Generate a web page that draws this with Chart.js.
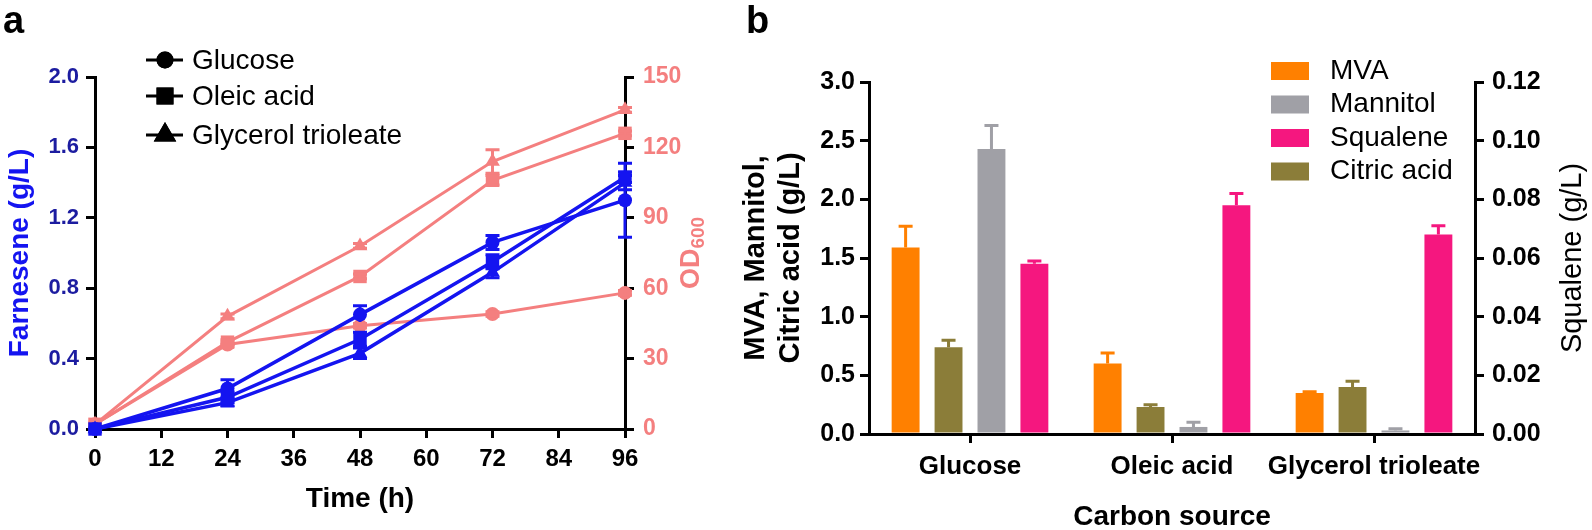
<!DOCTYPE html>
<html>
<head>
<meta charset="utf-8">
<script src="https://cdn.jsdelivr.net/npm/chart.js@4.4.1/dist/chart.umd.min.js"></script>
<style>
  html, body { margin: 0; padding: 0; background: #fff; }
  #wrap { position: relative; width: 1592px; height: 530px; overflow: hidden; }
  canvas { position: absolute; top: 0; }
  #chartA { left: 0; }
  #chartB { left: 720px; }
  .panel { position: absolute; font: bold 38px 'Liberation Sans', Arial, sans-serif; line-height: 1; }
</style>
</head>
<body>
<div id="wrap">
  <canvas id="chartA" width="720" height="530"></canvas>
  <canvas id="chartB" width="872" height="530"></canvas>
  <div class="panel" style="left:3px;top:1px;">a</div>
  <div class="panel" style="left:746px;top:1px;">b</div>
</div>
<script>
// ---- panel a: farnesene + OD600 over time ----
const hours = [0, 24, 48, 72, 96];
const seriesNames = ['Glucose', 'Oleic acid', 'Glycerol trioleate'];
const seriesMarkers = ['circle', 'rect', 'triangle'];

const farnGlucose  = [0, 0.23, 0.65, 1.06, 1.30];
const farnOleic    = [0, 0.18, 0.51, 0.95, 1.43];
const farnGlycerol = [0, 0.15, 0.43, 0.89, 1.40];
const farnGlucoseErr  = [0, 0.05, 0.05, 0.04, 0.21];
const farnOleicErr    = [0, 0.03, 0.04, 0.04, 0.03];
const farnGlycerolErr = [0, 0.02, 0.03, 0.03, 0.04];

const odGlucose  = [2, 36, 44, 49, 58];
const odOleic    = [2, 37, 65, 106, 126];
const odGlycerol = [2, 48, 78, 114, 136];
const odGlucoseErr  = [0, 1, 1, 1, 1];
const odOleicErr    = [0, 1, 1, 2, 1];
const odGlycerolErr = [0, 1, 1, 5, 1];

const timeTicks = [0, 12, 24, 36, 48, 60, 72, 84, 96];

// ---- panel b: by-products per carbon source ----
const sources = ['Glucose', 'Oleic acid', 'Glycerol trioleate'];
const mva         = [1.59, 0.60, 0.35];
const mvaErr      = [0.18, 0.09, 0.01];
const citric      = [0.74, 0.23, 0.40];
const citricErr   = [0.06, 0.02, 0.05];
const mannitol    = [2.43, 0.06, 0.03];
const mannitolErr = [0.20, 0.04, 0.015];
const squalene    = [0.058, 0.078, 0.068];
const squaleneErr = [0.001, 0.004, 0.003];
const legendOrderB = ['MVA', 'Mannitol', 'Squalene', 'Citric acid'];

const FONT = "'Liberation Sans', Arial, Helvetica, sans-serif";
Chart.defaults.font.family = FONT;
Chart.defaults.color = '#000';

const BLUE = '#1414f0';
const NAVY = '#1c1ca0';
const SALMON = '#f47f7f';
const ORANGE = '#ff8000';
const GREY = '#a0a0a6';
const PINK = '#f5177f';
const OLIVE = '#8b7d39';

// error bars, drawn from the scales of each dataset
const errorBars = {
  id: 'errorBars',
  afterDatasetsDraw(chart, args, o) {
    const ctx = chart.ctx;
    chart.data.datasets.forEach((ds, i) => {
      if (!ds.err) return;
      const meta = chart.getDatasetMeta(i);
      const ys = chart.scales[meta.yAxisID];
      ctx.save();
      ctx.strokeStyle = ds.borderColor || ds.backgroundColor;
      ctx.lineWidth = o.width;
      meta.data.forEach((el, j) => {
        const d = ds.data[j];
        const v = typeof d === 'object' ? d.y : d;
        const e = ds.err[j];
        if (!e) return;
        const top = ys.getPixelForValue(v + e);
        const bot = ds.errBoth ? ys.getPixelForValue(v - e) : el.y;
        ctx.beginPath();
        ctx.moveTo(el.x, top); ctx.lineTo(el.x, bot);
        ctx.moveTo(el.x - o.cap / 2, top); ctx.lineTo(el.x + o.cap / 2, top);
        if (ds.errBoth) { ctx.moveTo(el.x - o.cap / 2, bot); ctx.lineTo(el.x + o.cap / 2, bot); }
        ctx.stroke();
      });
      ctx.restore();
    });
  }
};

// right-hand axis titles (read bottom to top, with optional subscript)
const sideTitle = {
  id: 'sideTitle',
  afterDraw(chart, args, o) {
    if (!o.parts) return;
    const ctx = chart.ctx, a = chart.chartArea;
    ctx.save();
    ctx.translate(a.right + o.offset, (a.top + a.bottom) / 2);
    ctx.rotate(-Math.PI / 2);
    ctx.fillStyle = o.color;
    ctx.textBaseline = 'middle';
    let total = 0;
    o.parts.forEach(p => { ctx.font = p.font; total += ctx.measureText(p.text).width; });
    let x = -total / 2;
    o.parts.forEach(p => {
      ctx.font = p.font;
      ctx.fillText(p.text, x, p.dy || 0);
      x += ctx.measureText(p.text).width;
    });
    ctx.restore();
  }
};

// legend of panel a: black line + marker
const legendA = {
  id: 'legendA',
  afterDraw(chart) {
    const ctx = chart.ctx;
    const rows = [60, 96, 135];
    const radii = [8.5, 12, 13];
    ctx.save();
    seriesNames.forEach((name, k) => {
      const y = rows[k];
      ctx.strokeStyle = '#000'; ctx.lineWidth = 3;
      ctx.beginPath(); ctx.moveTo(146, y); ctx.lineTo(183, y); ctx.stroke();
      ctx.fillStyle = '#000';
      Chart.helpers.drawPoint(ctx, { pointStyle: seriesMarkers[k], radius: radii[k], rotation: 0, borderWidth: 0 }, 165, y);
      ctx.fill();
      ctx.font = '28px ' + FONT;
      ctx.textBaseline = 'middle';
      ctx.fillText(name, 192, y + 1);
    });
    ctx.restore();
  }
};

// legend of panel b: colour boxes in the figure's own order
const legendB = {
  id: 'legendB',
  afterDraw(chart) {
    const ctx = chart.ctx;
    ctx.save();
    legendOrderB.forEach((name, k) => {
      const ds = chart.data.datasets.find(d => d.label === name);
      const top = 62 + k * 33.5;
      ctx.fillStyle = ds.backgroundColor;
      ctx.fillRect(551, top, 38, 18);
      ctx.fillStyle = '#000';
      ctx.font = '28px ' + FONT;
      ctx.textBaseline = 'middle';
      ctx.fillText(name, 610, top + 9);
    });
    ctx.restore();
  }
};

function pts(vals) { return hours.map((h, i) => ({ x: h, y: vals[i] })); }

function lineSet(label, vals, err, color, k, axis, width) {
  const r = [7, 9.5, 8.5][k];
  return {
    label, data: pts(vals), err, errBoth: true, yAxisID: axis,
    borderColor: color, backgroundColor: color, borderWidth: width,
    pointStyle: seriesMarkers[k], pointRadius: r, pointHoverRadius: r,
    pointBorderWidth: 0, tension: 0, clip: false
  };
}

const axisGrid = { drawOnChartArea: false, color: '#000', lineWidth: 3, tickLength: 9 };
const axisBorder = { display: true, color: '#000', width: 3 };

new Chart(document.getElementById('chartA'), {
  type: 'line',
  data: {
    datasets: [
      lineSet('Glucose', farnGlucose, farnGlucoseErr, BLUE, 0, 'y', 3.5),
      lineSet('Oleic acid', farnOleic, farnOleicErr, BLUE, 1, 'y', 3.5),
      lineSet('Glycerol trioleate', farnGlycerol, farnGlycerolErr, BLUE, 2, 'y', 3.5),
      lineSet('Glucose OD', odGlucose, odGlucoseErr, SALMON, 0, 'y2', 3),
      lineSet('Oleic acid OD', odOleic, odOleicErr, SALMON, 1, 'y2', 3),
      lineSet('Glycerol trioleate OD', odGlycerol, odGlycerolErr, SALMON, 2, 'y2', 3)
    ]
  },
  plugins: [errorBars, sideTitle, legendA],
  options: {
    responsive: false,
    animation: false,
    devicePixelRatio: 1,
    layout: { padding: { top: 77, left: 0, right: 0, bottom: 0 } },
    plugins: {
      legend: { display: false },
      tooltip: { enabled: false },
      errorBars: { width: 3, cap: 14 },
      sideTitle: {
        offset: 67, color: SALMON,
        parts: [
          { text: 'OD', font: 'bold 27px ' + FONT },
          { text: '600', font: 'bold 19px ' + FONT, dy: 7 }
        ]
      }
    },
    scales: {
      x: {
        type: 'linear', min: 0, max: 96,
        afterBuildTicks: s => { s.ticks = timeTicks.map(v => ({ value: v })); },
        afterFit: s => { s.height = 101; },
        grid: axisGrid, border: axisBorder,
        ticks: { font: { size: 24, weight: 'bold' }, color: '#000', padding: 7, maxRotation: 0 },
        title: { display: true, text: 'Time (h)', font: { size: 28, weight: 'bold' }, padding: { top: 0, bottom: 14 } }
      },
      y: {
        position: 'left', min: 0, max: 2,
        afterFit: s => { s.width = 95; },
        grid: axisGrid, border: axisBorder,
        ticks: { stepSize: 0.4, font: { size: 22, weight: 'bold' }, color: NAVY, padding: 7, callback: v => v.toFixed(1) },
        title: { display: true, text: 'Farnesene (g/L)', color: BLUE, font: { size: 28, weight: 'bold' }, padding: { top: 3, bottom: 0 } }
      },
      y2: {
        position: 'right', min: 0, max: 150,
        afterFit: s => { s.width = 95; },
        grid: axisGrid, border: axisBorder,
        ticks: { stepSize: 30, font: { size: 23, weight: 'bold' }, color: SALMON, padding: 9 }
      }
    }
  }
});

function barSet(label, vals, err, color, axis) {
  return { label, data: vals, err, yAxisID: axis, backgroundColor: color, borderColor: color, borderWidth: 0 };
}

new Chart(document.getElementById('chartB'), {
  type: 'bar',
  data: {
    labels: sources,
    datasets: [
      barSet('MVA', mva, mvaErr, ORANGE, 'y'),
      barSet('Citric acid', citric, citricErr, OLIVE, 'y'),
      barSet('Mannitol', mannitol, mannitolErr, GREY, 'y'),
      barSet('Squalene', squalene, squaleneErr, PINK, 'y2')
    ]
  },
  plugins: [errorBars, sideTitle, legendB],
  options: {
    responsive: false,
    animation: false,
    devicePixelRatio: 1,
    categoryPercentage: 0.85,
    barPercentage: 0.65,
    layout: { padding: { top: 82, left: 0, right: 0, bottom: 0 } },
    plugins: {
      legend: { display: false },
      tooltip: { enabled: false },
      errorBars: { width: 3, cap: 14 },
      sideTitle: {
        offset: 98, color: '#000',
        parts: [{ text: 'Squalene (g/L)', font: '29px ' + FONT }]
      }
    },
    scales: {
      x: {
        afterFit: s => { s.height = 96; },
        grid: Object.assign({}, axisGrid, { offset: false }), border: axisBorder,
        ticks: { font: { size: 26, weight: 'bold' }, color: '#000', padding: 8, maxRotation: 0, minRotation: 0, autoSkip: false },
        title: { display: true, text: 'Carbon source', font: { size: 28, weight: 'bold' }, padding: { top: 0, bottom: -4 } }
      },
      y: {
        position: 'left', min: 0, max: 3,
        afterFit: s => { s.width = 149; },
        grid: axisGrid, border: axisBorder,
        ticks: { stepSize: 0.5, font: { size: 25, weight: 'bold' }, color: '#000', padding: 5, callback: v => v.toFixed(1) },
        title: {
          display: true, text: ['MVA, Mannitol,', 'Citric acid (g/L)'],
          font: { size: 29, weight: 'bold', lineHeight: 1.2 }, padding: { top: 19, bottom: 0 }
        }
      },
      y2: {
        position: 'right', min: 0, max: 0.12,
        afterFit: s => { s.width = 117; },
        grid: axisGrid, border: axisBorder,
        ticks: { stepSize: 0.02, font: { size: 25, weight: 'bold' }, color: '#000', padding: 8, callback: v => v.toFixed(2) }
      }
    }
  }
});
</script>
</body>
</html>
